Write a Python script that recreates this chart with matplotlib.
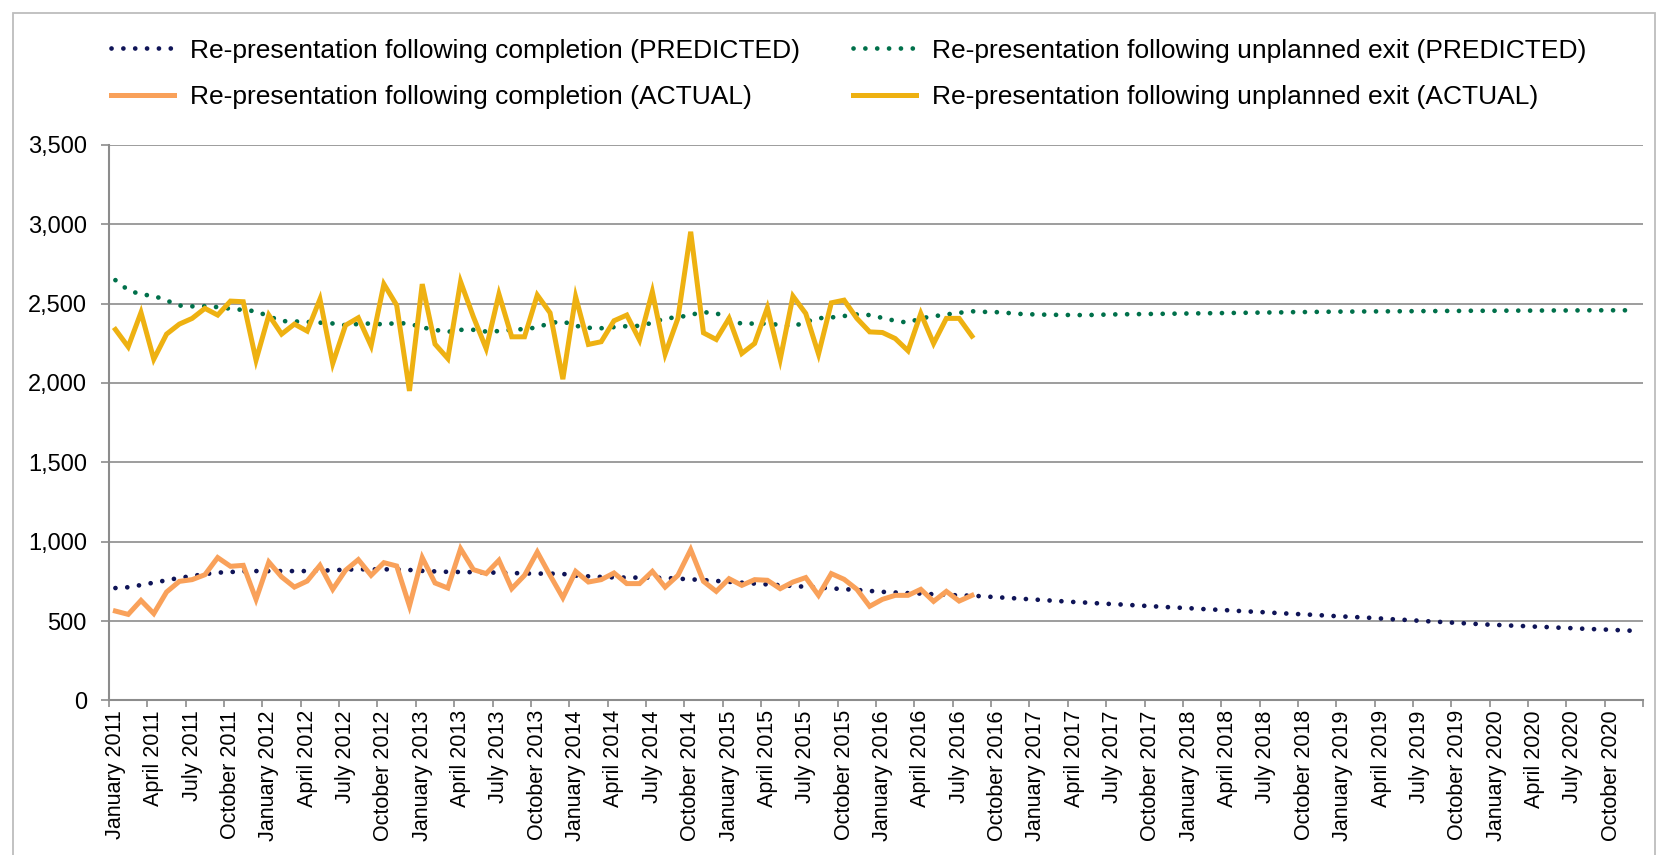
import matplotlib
matplotlib.use("Agg")
import matplotlib.pyplot as plt
from matplotlib.patches import Rectangle
from matplotlib.ticker import FuncFormatter, FixedLocator

plt.rcParams['font.family'] = ['Liberation Sans', 'DejaVu Sans']

# monthly axis, January 2011 .. December 2020
month_names = ['January', 'February', 'March', 'April', 'May', 'June', 'July',
               'August', 'September', 'October', 'November', 'December']
years = list(range(2011, 2021))
months = [m + ' ' + str(y) for y in years for m in month_names]

# re-presentations following completion
completion_actual = [563, 542, 630, 547, 683, 750, 761, 792, 900, 845,
                     851, 637, 872, 778, 714, 752, 851, 700, 820, 887,
                     788, 868, 847, 595, 900, 740, 708, 956, 824, 799,
                     883, 704, 788, 935, 788, 647, 813, 746, 761, 803,
                     736, 736, 813, 714, 788, 950, 750, 687, 767, 725,
                     761, 757, 704, 746, 774, 662, 799, 763, 700, 593,
                     637, 662, 662, 700, 624, 687, 626, 662]
completion_predicted = [708, 713, 727, 742, 757, 772, 784, 796, 805, 809,
                        813, 815, 815, 815, 815, 815, 818, 820, 824, 826,
                        826, 826, 825, 822, 816, 813, 810, 809, 808, 806,
                        805, 803, 800, 799, 799, 797, 786, 782, 778, 775,
                        774, 774, 773, 772, 767, 763, 758, 753, 747, 742,
                        736, 731, 726, 721, 716, 711, 706, 701, 696, 690,
                        684, 680, 676, 673, 669, 665, 662, 660, 655, 650,
                        645, 640, 635, 630, 625, 620, 616, 611, 607, 603,
                        598, 594, 589, 585, 581, 576, 572, 568, 563, 559,
                        555, 550, 546, 542, 538, 533, 529, 525, 521, 516,
                        511, 507, 502, 497, 493, 488, 484, 479, 476, 472,
                        469, 465, 462, 458, 455, 451, 448, 445, 441, 438]

# re-presentations following unplanned exit
unplanned_actual = [2337, 2228, 2444, 2150, 2308, 2371, 2407, 2470, 2428, 2516,
                    2512, 2144, 2428, 2308, 2371, 2327, 2528, 2123, 2364, 2411,
                    2234, 2623, 2490, 1950, 2623, 2245, 2154, 2638, 2417, 2217,
                    2560, 2291, 2291, 2554, 2442, 2024, 2543, 2243, 2260, 2392,
                    2428, 2270, 2575, 2182, 2407, 2953, 2316, 2274, 2407, 2186,
                    2249, 2474, 2148, 2547, 2438, 2182, 2505, 2522, 2407, 2322,
                    2318, 2280, 2203, 2438, 2249, 2407, 2407, 2295]
unplanned_predicted = [2648, 2585, 2558, 2549, 2520, 2488, 2483, 2484, 2478, 2468,
                       2460, 2452, 2420, 2390, 2388, 2385, 2380, 2375, 2364, 2372,
                       2375, 2369, 2378, 2374, 2350, 2335, 2322, 2335, 2335, 2324,
                       2327, 2335, 2340, 2350, 2378, 2388, 2360, 2348, 2345, 2352,
                       2358, 2360, 2379, 2408, 2413, 2430, 2446, 2440, 2405, 2372,
                       2375, 2374, 2366, 2356, 2385, 2408, 2413, 2422, 2432, 2428,
                       2410, 2392, 2380, 2408, 2420, 2432, 2442, 2452, 2448, 2446,
                       2440, 2434, 2432, 2430, 2429, 2428, 2428, 2430, 2432, 2433,
                       2434, 2435, 2436, 2437, 2438, 2439, 2440, 2441, 2442, 2443,
                       2444, 2445, 2446, 2447, 2448, 2449, 2450, 2450, 2451, 2451,
                       2452, 2452, 2453, 2453, 2454, 2454, 2455, 2455, 2455, 2456,
                       2456, 2456, 2457, 2457, 2457, 2458, 2458, 2458, 2458, 2458]

NAVY = '#0f1457'
GREEN = '#00704a'
ORANGE = '#f9a15a'
GOLD = '#eeb111'
GRID = '#8c8c8c'

fig = plt.figure(figsize=(16.57, 8.55), dpi=100)
ax = fig.add_axes([0.0658, 0.1808, 0.9258, 0.6497])

# outer chart border
fig.patches.append(Rectangle((13 / 1657, -0.05), 1 - 15 / 1657, 1.05 - 13 / 855,
                             transform=fig.transFigure, fill=False,
                             edgecolor='#bdbdbd', linewidth=1.3))

x_pred = list(range(len(months)))
x_act = list(range(len(completion_actual)))

dots = dict(linestyle=(0, (0.01, 2.5)), linewidth=3.4, dash_capstyle='round')
l1, = ax.plot(x_pred, completion_predicted, color=NAVY, **dots,
              label='Re-presentation following completion (PREDICTED)')
l2, = ax.plot(x_act, completion_actual, color=ORANGE, linewidth=3.6,
              solid_joinstyle='miter',
              label='Re-presentation following completion (ACTUAL)')
l3, = ax.plot(x_pred, unplanned_predicted, color=GREEN, **dots,
              label='Re-presentation following unplanned exit (PREDICTED)')
l4, = ax.plot(x_act, unplanned_actual, color=GOLD, linewidth=3.6,
              solid_joinstyle='miter',
              label='Re-presentation following unplanned exit (ACTUAL)')

ax.set_xlim(-0.5, len(months) - 0.5)
ax.set_ylim(0, 3500)
ax.set_yticks(range(0, 3501, 500))
ax.yaxis.set_major_formatter(FuncFormatter(lambda v, p: '{:,.0f}'.format(v)))
ax.grid(axis='y', color=GRID, linewidth=1.2)
ax.set_axisbelow(True)

# tick marks between quarters, labels in the middle of each labelled month
ax.xaxis.set_major_locator(FixedLocator([i - 0.5 for i in range(0, len(months) + 1, 3)]))
ax.xaxis.set_major_formatter(FuncFormatter(lambda v, p: ''))
ax.xaxis.set_minor_locator(FixedLocator(list(range(0, len(months), 3))))
ax.set_xticklabels(months[::3], minor=True, rotation=90, fontsize=15.5)
ax.tick_params(axis='x', which='major', direction='out', length=5, width=1.2, color=GRID)
ax.tick_params(axis='x', which='minor', length=0, pad=7)
ax.tick_params(axis='y', direction='out', length=6, width=1.2, color=GRID,
               labelsize=17, pad=10)

for side in ['top', 'right']:
    ax.spines[side].set_visible(False)
for side in ['left', 'bottom']:
    ax.spines[side].set_color(GRID)
    ax.spines[side].set_linewidth(1.5)

fig.legend(handles=[l1, l2, l3, l4], ncol=2, loc='upper left',
           bbox_to_anchor=(100 / 1657, 1 - 28 / 855), frameon=False,
           fontsize=19, handlelength=2.4, handletextpad=0.6,
           columnspacing=2.0, labelspacing=0.85, borderaxespad=0)

fig.savefig('out.png', dpi=100)
